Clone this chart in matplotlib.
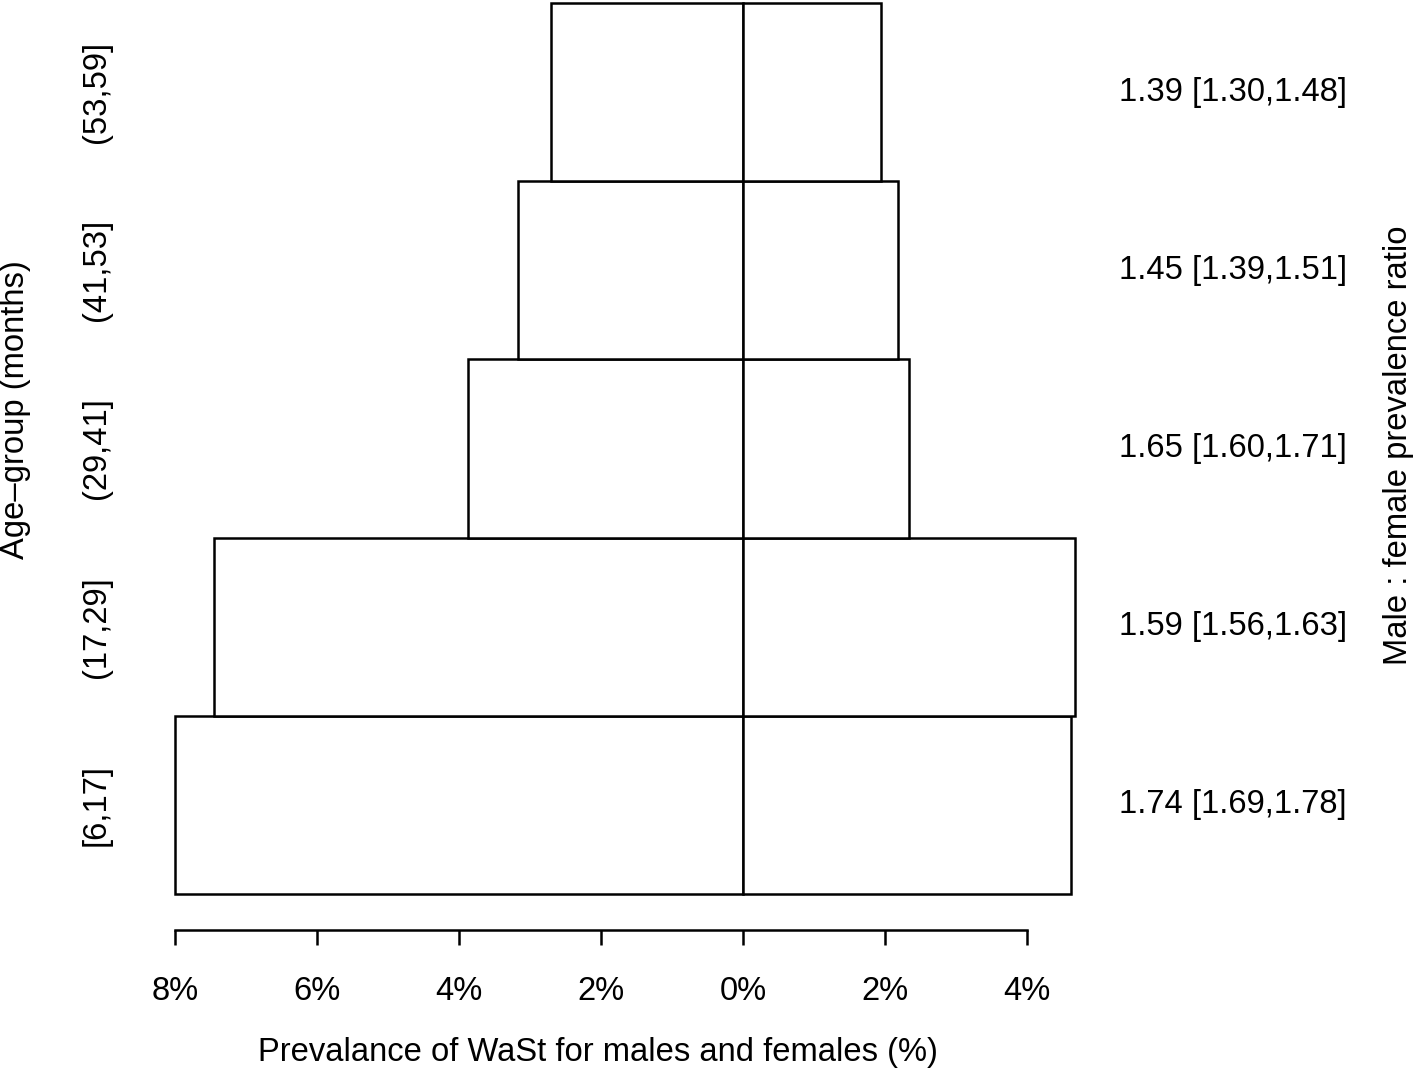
import numpy as np
import matplotlib.pyplot as plt
from matplotlib.transforms import blended_transform_factory

plt.rcParams['font.family'] = ['Liberation Sans', 'DejaVu Sans']

# ----------------------------------------------------------------------
# Data
# ----------------------------------------------------------------------
age_groups = ["[6,17]", "(17,29]", "(29,41]", "(41,53]", "(53,59]"]
male_prev = [8.00, 7.45, 3.87, 3.17, 2.70]      # % (left side)
female_prev = [4.62, 4.68, 2.34, 2.18, 1.94]    # % (right side)
ratio_labels = ["1.74 [1.69,1.78]", "1.59 [1.56,1.63]", "1.65 [1.60,1.71]",
                "1.45 [1.39,1.51]", "1.39 [1.30,1.48]"]
x_ticks = [-8, -6, -4, -2, 0, 2, 4]
x_tick_labels = ["8%", "6%", "4%", "2%", "0%", "2%", "4%"]

W, H = 1418, 1073
FS = 23.6
LW = 1.8

fig = plt.figure(figsize=(W / 100, H / 100), dpi=100)
ax = fig.add_axes([175 / W, (H - 894) / H, 852 / W, 891 / H])

y = np.arange(len(age_groups))
male = np.array(male_prev)
female = np.array(female_prev)

ax.barh(y, male, left=-male, height=1.0, align="edge",
        facecolor="white", edgecolor="black", linewidth=LW, clip_on=False)
ax.barh(y, female, left=0, height=1.0, align="edge",
        facecolor="white", edgecolor="black", linewidth=LW, clip_on=False)

ax.set_xlim(-8, 4)
ax.set_ylim(0, len(age_groups))

for side in ["top", "right", "left"]:
    ax.spines[side].set_visible(False)
ax.spines["bottom"].set_position(("outward", 36 * 0.72))
ax.spines["bottom"].set_bounds(-8, 4)
ax.spines["bottom"].set_linewidth(LW)
ax.set_yticks([])
ax.set_xticks(x_ticks)
ax.set_xticklabels(x_tick_labels, fontsize=FS)
ax.tick_params(axis="x", direction="out", length=15 * 0.72, width=LW, pad=22)

# left group labels and right ratio labels
trans_l = blended_transform_factory(fig.transFigure, ax.transData)
for i, lab in enumerate(age_groups):
    ax.text(96 / W, i + 0.5, lab, transform=trans_l, rotation=90,
            ha="center", va="center", fontsize=FS)
for i, lab in enumerate(ratio_labels):
    ax.text(1119 / W, i + 0.5, lab, transform=trans_l,
            ha="left", va="center", fontsize=FS)

fig.text(598 / W, 1 - 1053 / H, "Prevalance of WaSt for males and females (%)",
         ha="center", va="center", fontsize=FS)
fig.text(16 / W, 1 - 410 / H, "Age\u2013group (months)", rotation=90,
         ha="center", va="center", fontsize=FS)
fig.text(1398 / W, 1 - 445 / H, "Male : female prevalence ratio", rotation=90,
         ha="center", va="center", fontsize=FS)

fig.savefig("out.png", dpi=100, facecolor="white")
